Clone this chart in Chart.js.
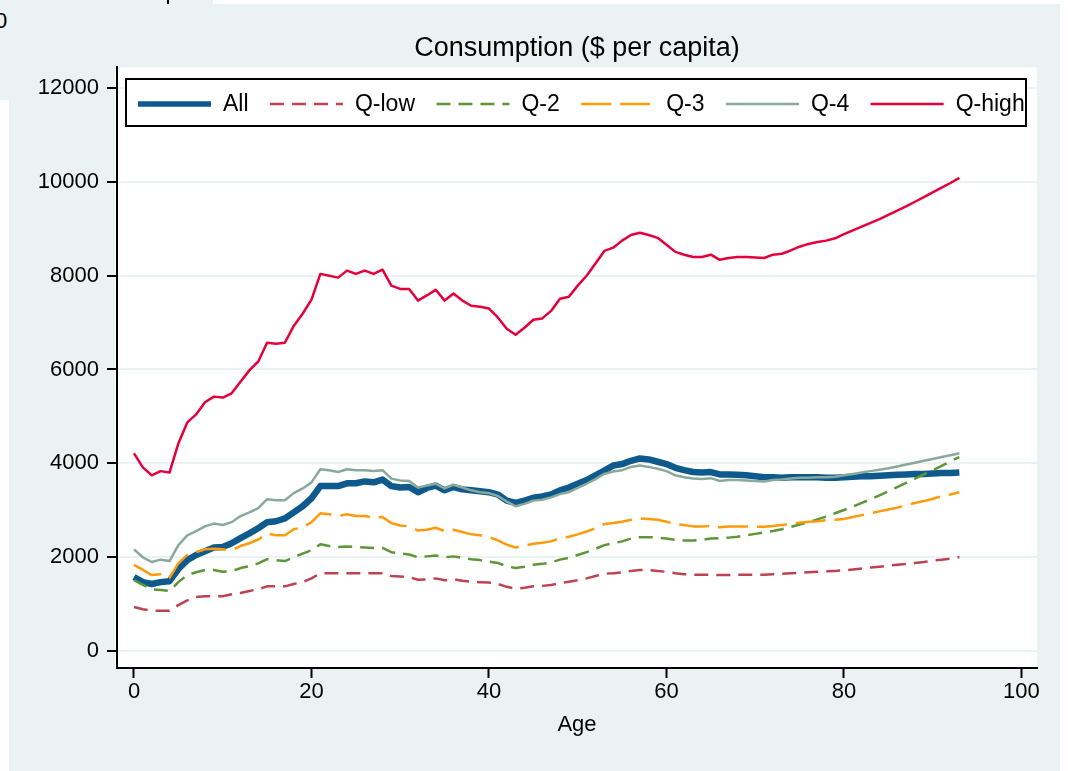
<!DOCTYPE html>
<html>
<head>
<meta charset="utf-8">
<title>Consumption ($ per capita)</title>
<script src="https://cdn.jsdelivr.net/npm/chart.js@4.4.1/dist/chart.umd.min.js"></script>
<style>
  html, body { margin: 0; padding: 0; background: #fff; overflow: hidden; }
  #stage { position: relative; width: 1068px; height: 771px; }
  .panel { position: absolute; background: #eaf2f3; }
  #prev { left: 0; top: 0; width: 213px; height: 100px; }
  #main { left: 9px; top: 4px; width: 1051px; height: 767px; }
  #prevLabel { position: absolute; left: -5px; top: 8px; font: 22px "Liberation Sans", Arial, sans-serif; line-height: 26px; color: #000; }
  #prevTick { position: absolute; left: 167px; top: 0; width: 2px; height: 4px; background: #000; }
  canvas { position: absolute; left: 0; top: 0; }
</style>
</head>
<body>
<div id="stage">
  <div class="panel" id="prev"></div>
  <div class="panel" id="main"></div>
  <div id="prevLabel">0</div>
  <div id="prevTick"></div>
  <canvas id="chart" width="1068" height="771"></canvas>
</div>
<script>
// Age of household member (years)
const ages = [
  0, 1, 2, 3, 4, 5, 6, 7, 8, 9,
  10, 11, 12, 13, 14, 15, 16, 17, 18, 19,
  20, 21, 22, 23, 24, 25, 26, 27, 28, 29,
  30, 31, 32, 33, 34, 35, 36, 37, 38, 39,
  40, 41, 42, 43, 44, 45, 46, 47, 48, 49,
  50, 51, 52, 53, 54, 55, 56, 57, 58, 59,
  60, 61, 62, 63, 64, 65, 66, 67, 68, 69,
  70, 71, 72, 73, 74, 75, 76, 77, 78, 79,
  80, 81, 82, 83, 84, 85, 86, 87, 88, 89,
  90, 91, 92, 93
];

// Consumption per capita by age, whole population
const consAll = [
  1570, 1460, 1420, 1460, 1480, 1740, 1930, 2040, 2120, 2200,
  2210, 2290, 2400, 2500, 2610, 2740, 2760, 2820, 2950, 3080,
  3250, 3510, 3510, 3510, 3570, 3570, 3610, 3590, 3650, 3510,
  3480, 3490, 3380, 3470, 3520, 3420, 3490, 3440, 3420, 3400,
  3380, 3330, 3200, 3150, 3200, 3260, 3290, 3330, 3420, 3480,
  3560, 3640, 3740, 3840, 3950, 3980, 4050, 4100, 4080, 4030,
  3980, 3900, 3850, 3810, 3800, 3810, 3760, 3760, 3750, 3740,
  3720, 3700, 3700, 3690, 3700, 3700, 3700, 3700, 3690, 3690,
  3700, 3710, 3720, 3720, 3730, 3740, 3750, 3760, 3770, 3770,
  3780, 3790, 3790, 3800
];

// Lowest income quintile
const consQLow = [
  930, 880, 850, 850, 850, 970, 1070, 1140, 1160, 1160,
  1160, 1200, 1230, 1270, 1310, 1370, 1370, 1370, 1420, 1460,
  1540, 1650, 1650, 1650, 1650, 1650, 1650, 1650, 1650, 1590,
  1580, 1570, 1510, 1520, 1540, 1500, 1520, 1490, 1470, 1460,
  1450, 1420, 1360, 1320, 1340, 1370, 1380, 1400, 1440, 1470,
  1500, 1540, 1590, 1640, 1650, 1670, 1700, 1720, 1720, 1700,
  1680, 1650, 1630, 1620, 1620, 1620, 1610, 1610, 1620, 1620,
  1620, 1620, 1630, 1640, 1650, 1660, 1670, 1680, 1690, 1700,
  1710, 1730, 1750, 1770, 1790, 1810, 1830, 1850, 1870, 1890,
  1920, 1940, 1960, 1990
];

// Second quintile
const consQ2 = [
  1500, 1400, 1310, 1290, 1270, 1460, 1610, 1670, 1720, 1720,
  1680, 1690, 1760, 1800, 1860, 1950, 1930, 1910, 1990, 2070,
  2140, 2270, 2230, 2210, 2220, 2210, 2200, 2190, 2190, 2100,
  2070, 2050, 1990, 2010, 2030, 1990, 2010, 1980, 1950, 1930,
  1900, 1870, 1800, 1760, 1790, 1830, 1850, 1880, 1940, 1980,
  2040, 2100, 2170, 2250, 2290, 2330, 2390, 2420, 2420, 2410,
  2390, 2360, 2350, 2350, 2360, 2390, 2400, 2410, 2430, 2460,
  2490, 2520, 2550, 2590, 2640, 2690, 2740, 2800, 2860, 2930,
  3000, 3070, 3150, 3230, 3310, 3400, 3490, 3580, 3670, 3760,
  3850, 3940, 4040, 4130
];

// Third quintile
const consQ3 = [
  1830, 1720, 1610, 1630, 1550, 1860, 2040, 2100, 2160, 2170,
  2160, 2140, 2230, 2290, 2370, 2500, 2460, 2460, 2590, 2630,
  2740, 2930, 2910, 2870, 2910, 2870, 2870, 2840, 2850, 2720,
  2670, 2650, 2560, 2580, 2620, 2550, 2580, 2530, 2480, 2460,
  2420, 2350, 2260, 2200, 2240, 2280, 2300, 2330, 2400, 2430,
  2480, 2540, 2610, 2700, 2720, 2750, 2790, 2820, 2810, 2790,
  2750, 2700, 2680, 2650, 2650, 2660, 2630, 2650, 2650, 2650,
  2640, 2640, 2660, 2680, 2700, 2730, 2750, 2760, 2780, 2790,
  2810, 2850, 2890, 2930, 2970, 3010, 3050, 3100, 3150, 3190,
  3240, 3290, 3330, 3380
];

// Fourth quintile
const consQ4 = [
  2160, 1990, 1890, 1940, 1910, 2250, 2460, 2550, 2650, 2710,
  2680, 2740, 2870, 2950, 3040, 3230, 3210, 3210, 3360, 3460,
  3590, 3870, 3850, 3810, 3870, 3850, 3850, 3830, 3850, 3670,
  3630, 3620, 3480, 3520, 3560, 3460, 3540, 3480, 3420, 3380,
  3360, 3300, 3180, 3080, 3130, 3200, 3220, 3270, 3340, 3380,
  3470, 3560, 3660, 3770, 3820, 3850, 3920, 3950, 3920, 3880,
  3830, 3740, 3700, 3670, 3660, 3680, 3620, 3640, 3640, 3630,
  3620, 3610, 3640, 3650, 3670, 3690, 3690, 3700, 3700, 3710,
  3740, 3770, 3800, 3830, 3860, 3890, 3930, 3970, 4010, 4050,
  4090, 4130, 4170, 4210
];

// Highest income quintile
const consQHigh = [
  4210, 3910, 3740, 3830, 3800, 4420, 4870, 5040, 5300, 5420,
  5400, 5490, 5740, 5980, 6170, 6570, 6550, 6570, 6930, 7190,
  7490, 8040, 8000, 7960, 8110, 8040, 8110, 8040, 8130, 7790,
  7720, 7720, 7470, 7580, 7700, 7470, 7620, 7470, 7360, 7340,
  7300, 7110, 6870, 6740, 6890, 7060, 7090, 7250, 7510, 7550,
  7790, 8000, 8260, 8530, 8600, 8750, 8870, 8920, 8870, 8810,
  8660, 8510, 8450, 8400, 8400, 8450, 8340, 8380, 8400, 8400,
  8390, 8380, 8450, 8470, 8540, 8620, 8680, 8720, 8750, 8800,
  8890, 8970, 9050, 9130, 9210, 9300, 9390, 9480, 9580, 9680,
  9780, 9880, 9980, 10090
];

const seriesLabels = ['All', 'Q-low', 'Q-2', 'Q-3', 'Q-4', 'Q-high'];
const seriesValues = [consAll, consQLow, consQ2, consQ3, consQ4, consQHigh];
const xTicks = [0, 20, 40, 60, 80, 100];
const yTicks = [0, 2000, 4000, 6000, 8000, 10000, 12000];

// Line styles per series
const seriesStyles = [
  { color: '#0f5a8c', width: 6.5, dash: [] },
  { color: '#bd4352', width: 2.5, dash: [14, 8] },
  { color: '#5d9636', width: 2.5, dash: [14, 8] },
  { color: '#ff9a0a', width: 2.5, dash: [30, 9] },
  { color: '#89a99b', width: 2.5, dash: [] },
  { color: '#e5003b', width: 2.5, dash: [] }
];

const FONT = '"Liberation Sans", Arial, Helvetica, sans-serif';
Chart.defaults.font.family = FONT;
Chart.defaults.color = '#000';

const datasets = seriesLabels.map((label, i) => ({
  label,
  data: ages.map((a, k) => ({ x: a, y: seriesValues[i][k] })),
  borderColor: seriesStyles[i].color,
  borderWidth: seriesStyles[i].width,
  borderDash: seriesStyles[i].dash,
  borderJoinStyle: 'round',
  borderCapStyle: 'butt',
  pointRadius: 0,
  tension: 0,
  fill: false,
  order: seriesLabels.length - i   // "All" sits underneath, Q-high on top
}));

// White plot region on top of the tinted graph region
const plotBackground = {
  id: 'plotBackground',
  beforeDraw(chart) {
    const { ctx, chartArea: a } = chart;
    ctx.save();
    ctx.fillStyle = '#ffffff';
    ctx.fillRect(a.left - 2, a.top, a.right - a.left + 2, a.bottom - a.top);
    ctx.restore();
  }
};

// Single-row legend framed by a box inside the plot region
const boxedLegend = {
  id: 'boxedLegend',
  afterDatasetsDraw(chart, args, o) {
    const ctx = chart.ctx;
    ctx.save();
    ctx.fillStyle = '#ffffff';
    ctx.fillRect(o.left, o.top, o.width, o.height);
    ctx.font = o.fontSize + 'px ' + FONT;
    ctx.textBaseline = 'middle';
    ctx.textAlign = 'left';
    const cy = o.top + o.lineOffset;
    let x = o.left + o.inset;
    chart.data.datasets.forEach(ds => {
      ctx.beginPath();
      ctx.setLineDash(ds.borderDash || []);
      ctx.lineDashOffset = 0;
      ctx.lineCap = 'butt';
      ctx.strokeStyle = ds.borderColor;
      ctx.lineWidth = Math.min(ds.borderWidth, 5.5);
      ctx.moveTo(x, cy);
      ctx.lineTo(x + o.sampleLength, cy);
      ctx.stroke();
      ctx.setLineDash([]);
      x += o.sampleLength + o.textGap;
      ctx.fillStyle = '#000';
      ctx.fillText(ds.label, x, cy + 0.5);
      x += ctx.measureText(ds.label).width + o.itemGap;
    });
    ctx.strokeStyle = '#000';
    ctx.lineWidth = 2;
    ctx.strokeRect(o.left + 1, o.top + 1, o.width - 2, o.height - 2);
    ctx.restore();
  }
};

new Chart(document.getElementById('chart'), {
  type: 'line',
  data: { datasets },
  plugins: [plotBackground, boxedLegend],
  options: {
    responsive: false,
    animation: false,
    events: [],
    layout: { padding: { top: 0, right: 31, bottom: 0, left: 0 } },
    scales: {
      x: {
        type: 'linear',
        min: -1.915,
        max: 101.75,
        afterFit(scale) { scale.height = 103; },
        afterBuildTicks(scale) { scale.ticks = xTicks.map(v => ({ value: v })); },
        ticks: {
          callback: v => String(v),
          font: { size: 22 },
          color: '#000',
          padding: 1,
          maxRotation: 0,
          autoSkip: false
        },
        grid: {
          drawOnChartArea: false,
          drawTicks: true,
          tickLength: 10,
          tickWidth: 2,
          tickColor: '#000',
          color: 'rgba(0,0,0,0)'
        },
        border: { display: true, color: '#000', width: 2 },
        title: {
          display: true,
          text: 'Age',
          font: { size: 22 },
          color: '#000',
          padding: { top: 0, bottom: 33 }
        }
      },
      y: {
        type: 'linear',
        min: -373,
        max: 12448,
        afterFit(scale) { scale.width = 117; },
        afterBuildTicks(scale) { scale.ticks = yTicks.map(v => ({ value: v })); },
        ticks: {
          callback: v => String(v),
          font: { size: 22 },
          color: '#000',
          padding: 8,
          autoSkip: false
        },
        grid: {
          drawOnChartArea: true,
          drawTicks: true,
          tickLength: 10,
          tickWidth: 2,
          tickColor: '#000',
          color: '#eaf2f3',
          lineWidth: 2
        },
        border: { display: true, color: '#000', width: 2 }
      }
    },
    plugins: {
      legend: { display: false },
      tooltip: { enabled: false },
      title: {
        display: true,
        fullSize: false,
        text: 'Consumption ($ per capita)',
        font: { size: 27, weight: 'normal' },
        color: '#000',
        padding: { top: 32, bottom: 3 }
      },
      boxedLegend: {
        left: 125, top: 78, width: 902, height: 49,
        lineOffset: 26, inset: 13,
        sampleLength: 73, textGap: 12, itemGap: 21.4,
        fontSize: 23
      }
    }
  }
});
</script>
</body>
</html>
